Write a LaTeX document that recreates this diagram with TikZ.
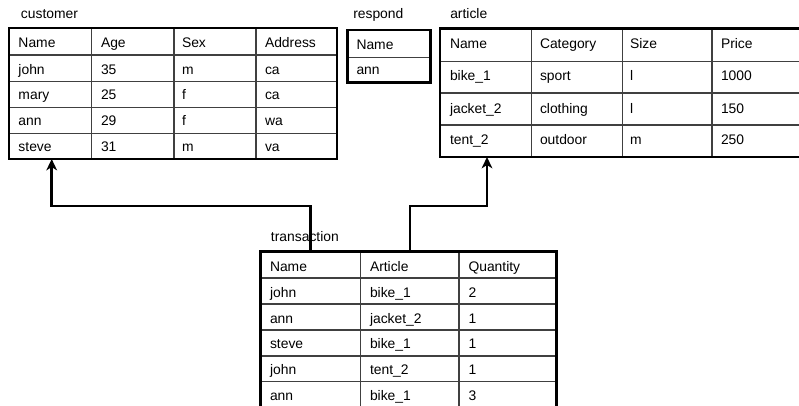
\documentclass[tikz,border=0pt]{standalone}
\usepackage{fontspec}
\setmainfont{Liberation Sans}
\usetikzlibrary{arrows.meta,calc,fit}
\begin{document}
\begin{tikzpicture}[x=0.75pt,y=-0.75pt,
  font=\fontsize{10.4}{12}\selectfont,
  frame/.style={draw=black,line width=2.2pt,inner sep=0pt,outer sep=0pt},
  rule/.style={draw=black!75,line width=0.8pt},
  cell/.style={anchor=base west,inner sep=0pt,outer sep=0pt},
  caption/.style={anchor=base west,inner sep=0pt},
  link/.style={draw=black,line width=1.9pt,-{Stealth[length=8.5pt,width=8pt,inset=2.5pt]}}]
\useasboundingbox (0,0) rectangle (799,406);
\clip (0,0) rectangle (799,406);

% ---- customer ----
\node[caption] (cust-cap) at (20.7,18.3) {customer};
\foreach \yy in {55,81.7,107.3,133.3} \draw[rule] (9,\yy) -- (337,\yy);
\foreach \xx in {91.7,174,256} \draw[rule] (\xx,28) -- (\xx,159);
\node[frame,fit={(9,28) (337,159)}] (cust) {};
\foreach \t/\x/\y [count=\i] in {
  Name/18.5/48,Age/101/48,Sex/182/48,Address/265/48,
  john/18.5/74.3,35/101/74.3,m/182/74.3,ca/265/74.3,
  mary/18.5/99.8,25/101/99.8,f/182/99.8,ca/265/99.8,
  ann/18.5/125.6,29/101/125.6,f/182/125.6,wa/265/125.6,
  steve/18.5/151.2,31/101/151.2,m/182/151.2,va/265/151.2}
  \node[cell] (cust-\i) at (\x,\y) {\t};

% ---- respond ----
\node[caption] (resp-cap) at (353,18.3) {respond};
\draw[rule] (347.3,57.3) -- (430.3,57.3);
\node[frame,fit={(347.3,30) (430.3,82.7)}] (resp) {};
\node[cell] (resp-1) at (356.5,49.3) {Name};
\node[cell] (resp-2) at (356.5,75) {ann};

% ---- article ----
\node[caption] (art-cap) at (450,18.3) {article};
\foreach \yy in {61.7,93,125} \draw[rule] (440,\yy) -- (830,\yy);
\foreach \xx in {531.7,622.7,712} \draw[rule] (\xx,28.3) -- (\xx,157);
\node[frame,fit={(440,28.3) (830,157)}] (art) {};
\foreach \t/\x/\y [count=\i] in {
  Name/450/48.3,Category/540/48.3,Size/630/48.3,Price/721/48.3,
  bike\_1/450/81,sport/540/81,l/630/81,1000/721/81,
  jacket\_2/450/113.3,clothing/540/113.3,l/630/113.3,150/721/113.3,
  tent\_2/450/144.3,outdoor/540/144.3,m/630/144.3,250/721/144.3}
  \node[cell] (art-\i) at (\x,\y) {\t};

% ---- transaction ----
\node[caption] (trans-cap) at (270.7,241.7) {transaction};
\foreach \yy in {278,304,330,356,381.7} \draw[rule] (260.5,\yy) -- (556.7,\yy);
\foreach \xx in {360.7,459} \draw[rule] (\xx,251.7) -- (\xx,410);
\node[frame,fit={(260.5,251.7) (556.7,410)}] (trans) {};
\foreach \t/\x/\y [count=\i] in {
  Name/270/271.7,Article/370/271.7,Quantity/468.5/271.7,
  john/270/297.7,bike\_1/370/297.7,2/468.5/297.7,
  ann/270/323,jacket\_2/370/323,1/468.5/323,
  steve/270/348.5,bike\_1/370/348.5,1/468.5/348.5,
  john/270/374.5,tent\_2/370/374.5,1/468.5/374.5,
  ann/270/400,bike\_1/370/400,3/468.5/400}
  \node[cell] (trans-\i) at (\x,\y) {\t};

% ---- references from transaction ----
\coordinate (bend) at (0,206);
\draw[link] ($(trans.north west)+(50.2,0)$) |- (bend -| {$(cust.south west)+(42.7,0)$}) -- ($(cust.south west)+(42.7,0)$);
\draw[link] ($(trans.north west)+(149.5,0)$) |- (bend -| {$(art.south west)+(47,0)$}) -- ($(art.south west)+(47,0)$);
\end{tikzpicture}
\end{document}
